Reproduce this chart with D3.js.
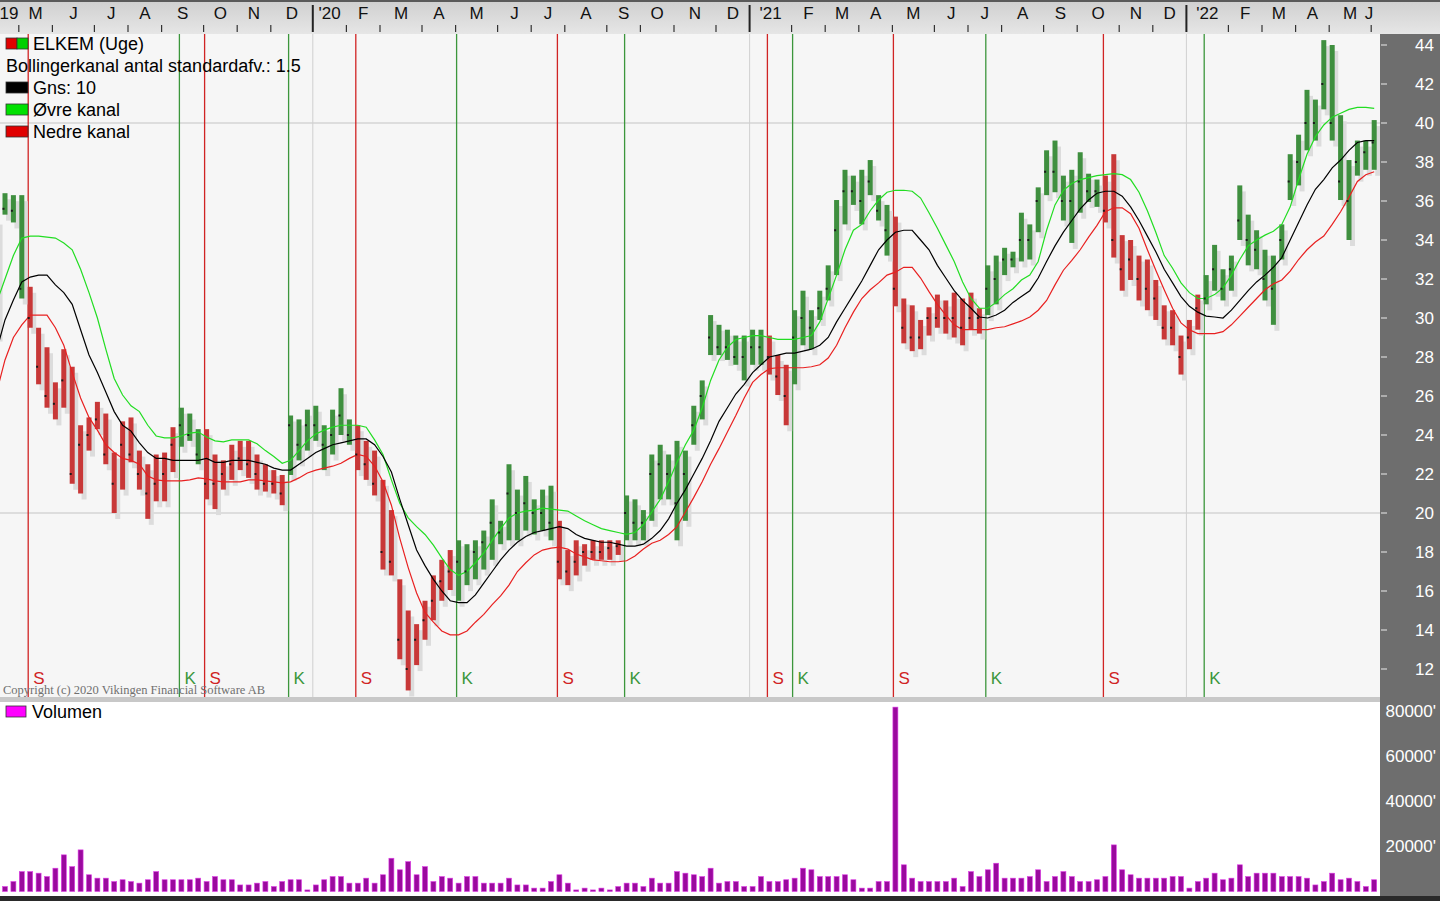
<!DOCTYPE html>
<html><head><meta charset="utf-8">
<script src="https://cdn.jsdelivr.net/npm/d3@7"></script>
<style>body{margin:0;background:#fff;overflow:hidden}svg{display:block}</style>
</head><body><svg id="c" width="1440" height="901"></svg>
<script>
// ---------- DATA (weekly, starting week of Sunday 2019-04-14) ----------
const startDate = new Date(2019, 3, 14);
const high = [35.1,36.4,36.3,36.3,31.6,29.5,28.5,26.7,28.4,27.5,24.5,24.9,25.7,25.1,23.1,24.7,24.9,23.2,22.5,23.0,23.1,24.4,25.4,25.1,24.3,
24.3,23.0,22.7,23.5,23.7,23.7,23.0,22.5,22.2,21.95,25.0,24.8,25.3,25.5,24.5,25.3,26.4,24.8,24.5,23.7,23.2,21.7,20.15,16.6,15.0,14.3,
15.5,16.8,17.6,18.1,18.6,18.4,18.6,19.1,20.7,19.6,22.5,21.2,21.9,20.7,21.2,21.4,19.6,18.1,18.6,18.4,18.6,18.6,18.6,18.6,20.9,20.7,
20.15,23.0,23.5,23.0,23.7,23.2,25.5,26.8,30.15,29.65,29.4,29.1,29.1,29.4,29.4,29.1,28.1,27.6,30.4,31.4,30.4,31.4,32.7,36.05,37.6,
37.3,37.6,38.1,36.3,35.8,35.2,31.0,30.65,29.9,30.55,31.2,30.9,31.3,31.0,31.3,30.5,32.7,33.2,33.6,33.4,35.4,34.8,36.7,38.6,39.1,
37.3,37.6,38.5,37.4,37.1,37.3,38.4,34.25,34.0,33.2,33.0,31.95,30.65,30.4,29.1,29.9,31.2,32.2,33.75,32.5,33.2,36.8,35.3,34.5,33.5,
33.2,34.8,38.4,39.4,41.7,41.2,44.25,44.0,40.4,38.1,39.1,39.1,40.15];
const low = [29.1,35.3,34.9,31.0,29.5,26.6,25.4,24.8,25.4,21.5,21.0,23.2,24.3,22.5,20.0,21.2,22.6,21.2,19.7,20.6,20.6,22.1,23.4,23.7,22.5,
20.7,20.2,21.2,21.7,22.2,21.8,21.2,21.1,21.0,20.4,21.95,22.7,23.2,23.7,22.2,23.0,24.0,23.5,22.2,21.7,20.9,17.1,16.8,12.5,10.9,12.2,
13.5,14.5,15.5,16.05,15.5,16.3,16.6,17.1,17.6,18.4,18.6,18.6,19.1,18.9,19.1,18.6,16.6,16.3,16.8,17.3,17.6,17.6,17.6,17.85,18.6,18.6,
18.6,19.6,20.7,20.7,18.6,19.6,23.5,24.8,28.1,28.1,27.85,27.6,26.8,27.6,27.6,27.1,26.05,24.5,26.6,28.6,28.4,29.9,30.9,32.2,34.8,
35.8,34.8,36.3,35.0,33.2,30.6,28.7,28.3,28.4,29.1,29.5,29.2,29.0,28.6,29.4,29.2,30.15,30.7,32.2,32.6,32.9,33.0,34.4,36.3,36.45,
35.0,33.85,35.4,35.95,35.7,34.9,33.1,31.4,31.95,30.9,30.4,29.9,28.9,28.6,27.1,28.4,29.4,30.7,31.4,30.9,31.4,34.0,32.7,32.5,30.9,
29.65,33.0,36.05,36.8,38.6,39.1,40.7,39.1,36.05,34.0,37.3,37.6,37.6];
const close = [33.0,35.6,35.5,31.5,30.0,27.5,26.0,25.6,26.8,22.0,23.5,24.0,24.8,23.0,21.5,23.5,23.0,22.0,21.0,21.5,22.0,23.5,24.5,24.0,23.0,
21.5,21.5,22.0,22.5,22.8,22.5,22.0,21.5,21.5,21.0,24.5,23.5,24.5,24.5,23.5,24.0,25.0,24.0,23.0,22.5,21.5,18.0,17.5,13.5,12.0,13.5,
14.5,15.5,16.5,17.0,17.5,17.0,18.0,18.5,19.5,19.0,21.0,20.0,20.5,20.0,20.0,19.5,17.5,17.0,17.5,18.0,18.0,18.0,18.2,18.3,20.0,19.5,
19.5,22.0,22.5,22.0,20.5,22.0,24.5,26.0,29.0,28.5,28.5,28.0,28.0,28.5,28.5,28.0,27.0,26.0,29.0,30.0,29.5,30.5,31.5,34.5,36.5,
36.5,36.0,37.0,35.5,34.5,31.5,29.5,29.0,29.0,30.0,30.0,30.0,30.0,29.5,30.0,30.0,31.5,32.0,33.0,33.0,34.0,34.0,36.0,37.5,37.5,
36.0,36.0,37.0,36.5,36.5,35.5,34.0,32.5,33.0,32.0,31.5,31.0,29.5,29.5,28.0,29.0,30.5,31.0,32.5,31.5,32.5,35.0,34.0,33.5,32.0,
31.5,34.0,37.0,38.0,40.0,40.0,42.0,40.0,37.0,36.0,38.0,38.5,39.0];
const maMid = [28.35,29.9,30.92,31.85,32.1,32.2,32.2,31.7,31.3,30.7,29.4,28.1,27.2,26.2,25.2,24.5,24.2,23.6,23.1,22.8,22.8,22.7,22.7,22.7,22.7,
22.8,22.6,22.6,22.7,22.7,22.7,22.6,22.5,22.3,22.2,22.2,22.5,22.8,23.1,23.3,23.5,23.6,23.7,23.8,23.8,23.5,22.9,22.1,20.7,19.4,18.1,
17.3,16.6,16.0,15.5,15.4,15.4,15.8,16.4,17.0,17.6,18.1,18.5,18.8,19.0,19.1,19.2,19.3,19.2,18.9,18.7,18.6,18.5,18.5,18.4,18.3,18.3,
18.4,18.7,19.1,19.7,20.5,21.2,22.0,22.8,23.7,24.7,25.4,26.1,26.6,27.2,27.6,28.0,28.1,28.2,28.2,28.3,28.4,28.6,29.0,29.8,30.5,
31.2,31.9,32.7,33.5,34.0,34.4,34.5,34.5,34.0,33.5,32.7,32.05,31.4,30.9,30.5,30.05,30.0,30.15,30.4,30.8,31.1,31.4,32.05,32.9,33.7,
34.4,35.0,35.6,36.05,36.4,36.5,36.5,36.25,35.7,35.0,34.2,33.4,32.5,31.8,31.1,30.6,30.3,30.1,30.05,30.0,30.4,30.9,31.4,31.85,32.2,
32.6,33.1,34.0,34.9,35.8,36.6,37.1,37.7,38.1,38.6,39.0,39.1,39.1];
const bandUpper = [30.8,32.0,33.2,34.1,34.2,34.2,34.15,34.1,33.85,33.5,32.5,31.3,30.0,28.4,26.9,26.05,25.5,25.2,24.5,23.95,23.85,23.85,23.95,24.1,24.15,
23.9,23.7,23.65,23.75,23.75,23.75,23.55,23.2,22.9,22.55,22.7,23.2,23.7,24.05,24.25,24.4,24.5,24.5,24.5,24.4,23.75,23.0,21.7,20.5,19.75,19.3,
18.9,18.35,17.7,17.1,16.8,17.0,17.45,17.95,18.6,19.2,19.75,20.0,20.1,20.15,20.25,20.2,20.15,20.1,19.85,19.6,19.4,19.2,19.1,19.0,18.9,19.0,
19.4,20.05,20.7,21.6,22.6,23.5,24.25,25.4,26.8,27.85,28.5,28.9,29.0,29.1,29.1,29.0,28.9,28.9,28.9,29.0,29.1,29.8,31.0,32.2,33.5,
34.5,34.8,35.5,36.05,36.45,36.55,36.55,36.5,36.15,35.4,34.6,33.75,32.9,31.85,31.0,30.5,30.5,30.8,31.2,31.5,31.95,32.2,32.9,34.5,35.8,
36.55,36.9,37.1,37.2,37.3,37.35,37.4,37.35,37.1,36.45,35.5,34.4,33.2,32.55,31.8,31.3,31.0,31.0,31.2,31.55,32.2,33.0,33.7,34.0,34.25,
34.45,34.8,35.7,37.1,38.4,39.3,39.9,40.3,40.5,40.7,40.8,40.8,40.75];
const bandLower = [26.2,27.85,29.0,29.65,30.15,30.15,30.15,29.5,28.6,27.2,25.9,24.9,24.25,23.5,23.1,22.8,22.7,22.5,21.9,21.7,21.65,21.65,21.65,21.7,21.8,
21.75,21.65,21.6,21.6,21.6,21.7,21.7,21.65,21.6,21.55,21.6,21.8,22.05,22.2,22.3,22.4,22.55,22.8,23.0,22.9,22.4,21.6,20.4,18.7,17.2,15.9,
14.9,14.4,13.95,13.75,13.75,13.95,14.4,14.8,15.3,15.75,16.3,17.0,17.45,17.85,18.1,18.2,18.25,18.15,17.9,17.75,17.6,17.55,17.5,17.5,17.55,17.8,
18.15,18.45,18.6,18.9,19.3,20.05,20.8,21.6,22.5,23.3,24.15,25.0,25.9,26.7,27.1,27.4,27.45,27.45,27.45,27.45,27.5,27.6,27.95,28.6,29.5,
30.3,31.0,31.45,31.8,32.2,32.35,32.6,32.6,32.05,31.35,30.7,30.15,29.65,29.4,29.4,29.4,29.4,29.5,29.55,29.7,29.85,30.05,30.4,30.9,31.7,
32.45,32.95,33.5,34.15,34.75,35.45,35.65,35.65,35.35,34.6,33.5,32.45,31.45,30.5,29.75,29.4,29.2,29.2,29.2,29.3,29.65,30.1,30.55,31.0,31.45,
31.75,31.95,32.4,33.0,33.5,33.9,34.2,34.8,35.45,36.2,37.0,37.35,37.5];
const volume = [1500,
2200,4400,8800,8800,8100,6600,10300,16200,11000,18400,7400,5900,5900,4400,5200,4400,3700,5200,8800,5200,5200,5200,5200,5900,
4400,6600,5200,5200,2900,2900,3700,4400,2200,4400,5200,5200,700,2900,5200,6600,6600,3700,3700,5900,3700,7400,14700,9600,13200,7400,
11000,4400,6600,5900,3700,6600,6600,3700,3700,3700,5900,2900,2900,1500,1500,4400,7400,3700,700,1500,700,1500,700,2200,3700,3700,
2200,5900,3700,3700,8800,8100,7400,6600,10300,3700,4400,4400,2200,2200,6600,4400,4400,5200,5900,10300,9600,6600,6600,6600,7400,
5200,1500,1500,4400,4400,81500,11800,5900,4400,4400,4400,4400,5900,2200,8800,6600,9600,12500,5900,5900,5900,6600,9600,4400,6600,
8800,6600,4400,4400,5200,6600,20600,9600,7400,5900,5900,5900,5900,6600,6600,1500,4400,5900,8100,5200,5900,11800,6600,8100,8100,
8100,6600,6600,6600,5900,2900,4400,8100,5200,5900,4400,2200,5200];
const buySignals = [22, 35, 55, 75, 95, 118, 144];   // "K"
const sellSignals = [4, 25, 43, 67, 92, 107, 132];  // "S"
const priceTicks = [12,14,16,18,20,22,24,26,28,30,32,34,36,38,40,42,44];
const priceGrid = [20, 40];
const volumeTicks = [20000, 40000, 60000, 80000];
const monthInitials = ["J","F","M","A","M","J","J","A","S","O","N","D"];
const firstSegmentLabel = "19";
const legendItems = [
  {label: "ELKEM (Uge)", kind: "split"},
  {label: "Bollingerkanal antal standardafv.: 1.5", kind: "none"},
  {label: "Gns: 10", kind: "#000000"},
  {label: "\u00D8vre kanal", kind: "#00e000"},
  {label: "Nedre kanal", kind: "#e00000"}
];

// ---------- LAYOUT ----------
const W = 1440, H = 901;
const plotL = 0, plotR = 1380;
const priceTop = 34, priceBot = 697;
const volTop = 702, volBot = 896;
const svg = d3.select("#c");
const n = high.length;
const dates = d3.timeWeek.range(startDate, d3.timeWeek.offset(startDate, n));

const x = d3.scaleTime().domain([dates[1], dates[n - 1]]).range([5, 5 + 8.4 * (n - 2)]);
const y = d3.scaleLinear().domain([12, 44]).range([669, 45]);
const yv = d3.scaleLinear().domain([0, 80000]).range([891.5, 710.5]);

const FONT = "'Liberation Sans', Arial, sans-serif";

svg.append("rect").attr("x",0).attr("y",0).attr("width",W).attr("height",H).attr("fill","#ffffff");
const defs = svg.append("defs");
const grad = defs.append("linearGradient").attr("id","axg").attr("x1",0).attr("y1",0).attr("x2",0).attr("y2",1);
grad.append("stop").attr("offset","0%").attr("stop-color","#cfcfcf");
grad.append("stop").attr("offset","100%").attr("stop-color","#e6e6e6");
defs.append("clipPath").attr("id","plotclip").append("rect")
  .attr("x",plotL).attr("y",priceTop).attr("width",plotR-plotL).attr("height",volBot-priceTop);
svg.append("rect").attr("x",0).attr("y",0).attr("width",W).attr("height",priceTop).attr("fill","url(#axg)");
svg.append("rect").attr("x",0).attr("y",0).attr("width",W).attr("height",2).attr("fill","#5a5a5a");
svg.append("rect").attr("x",plotL).attr("y",priceTop).attr("width",plotR-plotL).attr("height",priceBot-priceTop).attr("fill","#f6f6f6");
svg.append("rect").attr("x",plotL).attr("y",priceBot).attr("width",plotR-plotL).attr("height",volTop-priceBot).attr("fill","#c8c8c8");
svg.append("rect").attr("x",plotL).attr("y",volTop).attr("width",plotR-plotL).attr("height",volBot-volTop).attr("fill","#ffffff");
svg.append("rect").attr("x",plotR).attr("y",priceTop).attr("width",W-plotR).attr("height",volBot-priceTop).attr("fill","#6e6e6e");
svg.append("rect").attr("x",0).attr("y",volBot).attr("width",W).attr("height",H-volBot).attr("fill","#2a2a2a");

// ---------- top time axis ----------
const tickIdx = [];
for (let i = 1; i < n; i++) if (dates[i].getMonth() !== dates[i-1].getMonth()) tickIdx.push(i);
const tickX = i => x(dates[i]) - 3;
const axisG = svg.append("g");
tickIdx.forEach(i => {
  const isYear = dates[i].getMonth() === 0;
  axisG.append("line").attr("x1",tickX(i)).attr("x2",tickX(i))
    .attr("y1", isYear ? 5 : 25).attr("y2", 32)
    .attr("stroke", isYear ? "#222" : "#333").attr("stroke-width", isYear ? 2 : 1.2);
});
const bounds = [0].concat(tickIdx.map(tickX)).concat([1420]);
const labelsTxt = [firstSegmentLabel].concat(tickIdx.map(i => {
  const m = dates[i].getMonth();
  return m === 0 ? "'" + String(dates[i].getFullYear()).slice(2) : monthInitials[m];
}));
labelsTxt.forEach((t, k) => {
  let cx = (bounds[k] + bounds[k+1]) / 2;
  if (k === 0) cx = 9;
  if (cx > 1368) cx = 1369;
  axisG.append("text").attr("x", cx).attr("y", 19).attr("text-anchor","middle")
    .attr("font-family", FONT).attr("font-size", 17).attr("fill","#111").text(t);
});

// ---------- price panel ----------
const pg = svg.append("g").attr("clip-path","url(#plotclip)");
priceGrid.forEach(v => pg.append("line").attr("x1",plotL).attr("x2",plotR).attr("y1",y(v)).attr("y2",y(v))
  .attr("stroke","#c4c4c4").attr("stroke-width",1));
tickIdx.filter(i => dates[i].getMonth() === 0).forEach(i => {
  pg.append("line").attr("x1",tickX(i)).attr("x2",tickX(i)).attr("y1",priceTop).attr("y2",priceBot)
    .attr("stroke","#d0d0d0").attr("stroke-width",1);
});
const sigs = buySignals.map(i => ({i, t: "K"})).concat(sellSignals.map(i => ({i, t: "S"})));
sigs.forEach(s => {
  const sx = x(dates[s.i]) - 2;
  const col = s.t === "K" ? "#3c963c" : "#d02424";
  pg.append("line").attr("x1",sx).attr("x2",sx).attr("y1",priceTop).attr("y2",priceBot)
    .attr("stroke",col).attr("stroke-width",1.3);
  pg.append("text").attr("x", sx + 5).attr("y", 684).attr("font-family",FONT).attr("font-size",17)
    .attr("fill", col).text(s.t);
});
const state = [];
{
  let cur = "K";
  for (let i = 0; i < n; i++) {
    if (buySignals.includes(i)) cur = "K";
    if (sellSignals.includes(i)) cur = "S";
    state.push(cur);
  }
}
const idx = d3.range(n);
pg.selectAll("rect.sh").data(idx).join("rect").attr("class","sh")
  .attr("x", i => x(dates[i]) + 1).attr("y", i => y(high[i]) + 6).attr("width", 5)
  .attr("height", i => Math.max(2, y(low[i]) - y(high[i])))
  .attr("fill", "#dcdcdc");
pg.selectAll("rect.bar").data(idx).join("rect").attr("class","bar")
  .attr("x", i => x(dates[i]) - 2.5).attr("y", i => y(high[i])).attr("width", 5)
  .attr("height", i => Math.max(2, y(low[i]) - y(high[i])))
  .attr("fill", i => state[i] === "K" ? "#3f8f3f" : "#c83838");
const lineOf = arr => d3.line().x((d, i) => x(dates[i])).y(d => y(d))(arr);
pg.append("path").attr("d", lineOf(bandUpper)).attr("fill","none").attr("stroke","#22dd22").attr("stroke-width",1.2);
pg.append("path").attr("d", lineOf(bandLower)).attr("fill","none").attr("stroke","#e82020").attr("stroke-width",1.2);
pg.append("path").attr("d", lineOf(maMid)).attr("fill","none").attr("stroke","#000").attr("stroke-width",1.2);
pg.selectAll("rect.cl").data(idx).join("rect").attr("class","cl")
  .attr("x", i => x(dates[i]) - 2.5).attr("y", i => y(close[i]) - 1).attr("width", 2).attr("height", 2)
  .attr("fill", "#1a1a1a");

legendItems.forEach((it, k) => {
  const ly = 44 + k * 22;
  if (it.kind === "split") {
    pg.append("rect").attr("x",6).attr("y",ly-6).attr("width",11).attr("height",11).attr("fill","#e00000").attr("stroke","#333").attr("stroke-width",0.8);
    pg.append("rect").attr("x",17).attr("y",ly-6).attr("width",11).attr("height",11).attr("fill","#00d000").attr("stroke","#333").attr("stroke-width",0.8);
  } else if (it.kind !== "none") {
    pg.append("rect").attr("x",6).attr("y",ly-6).attr("width",22).attr("height",11).attr("fill",it.kind).attr("stroke","#333").attr("stroke-width",0.8);
  }
  pg.append("text").attr("x", it.kind === "none" ? 6 : 33).attr("y", ly + 6).attr("font-family",FONT)
    .attr("font-size",18).attr("fill","#000").text(it.label);
});
pg.append("text").attr("x",3).attr("y",694).attr("font-family","'Liberation Serif', 'Times New Roman', serif")
  .attr("font-size",12.5).attr("fill","#707070").text("Copyright (c) 2020 Vikingen Financial Software AB");

const ra = svg.append("g");
priceTicks.forEach(v => {
  ra.append("line").attr("x1",1381).attr("x2",1387).attr("y1",y(v)).attr("y2",y(v)).attr("stroke","#d8d8d8").attr("stroke-width",1.2);
  ra.append("text").attr("x",1434).attr("y",y(v)+6).attr("text-anchor","end").attr("font-family",FONT)
    .attr("font-size",17).attr("fill","#ffffff").text(v);
});

// ---------- volume panel ----------
const vg = svg.append("g").attr("clip-path","url(#plotclip)");
vg.selectAll("rect.v").data(idx).join("rect").attr("class","v")
  .attr("x", i => x(dates[i]) - 2.5).attr("y", i => yv(volume[i])).attr("width", 5)
  .attr("height", i => Math.max(1.5, yv(0) - yv(volume[i])))
  .attr("fill", "#9a0a9e").attr("stroke","#e040e8").attr("stroke-width",0.6);
vg.append("rect").attr("x",6).attr("y",706).attr("width",20).attr("height",11).attr("fill","#ff00ff").attr("stroke","#333").attr("stroke-width",0.8);
vg.append("text").attr("x",32).attr("y",718).attr("font-family",FONT).attr("font-size",18).attr("fill","#000").text("Volumen");
volumeTicks.forEach(v => {
  svg.append("text").attr("x",1436).attr("y",yv(v)+6).attr("text-anchor","end").attr("font-family",FONT)
    .attr("font-size",17).attr("fill","#ffffff").text(v + "'");
});
</script></body></html>
